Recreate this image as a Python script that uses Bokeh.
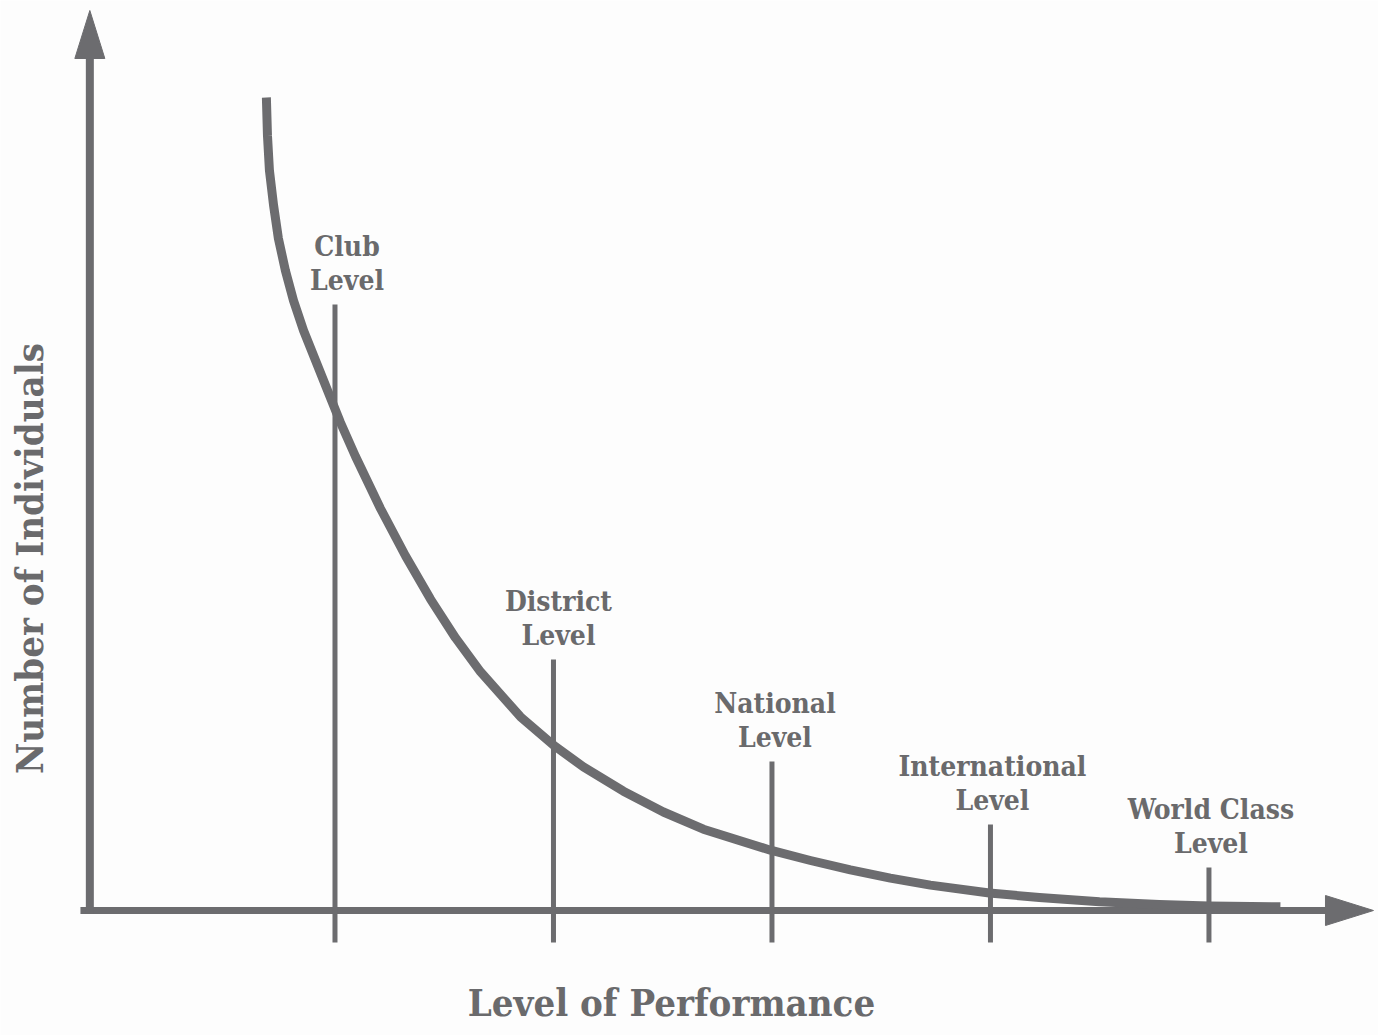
from bokeh.plotting import figure
from bokeh.models import Range1d, ColumnDataSource
from bokeh.core.properties import value
from bokeh.embed import file_html
from bokeh.resources import INLINE

# ---- data ----
level_labels = ["Club\nLevel", "District\nLevel", "National\nLevel",
                "International\nLevel", "World Class\nLevel"]
level_pos = [1, 2, 3, 4, 5]
level_top = [6.06, 2.51, 1.49, 0.86, 0.43]

curve_x = [0.686, 0.691, 0.700, 0.719, 0.741, 0.773, 0.810, 0.856, 0.911, 0.966,
           1.025, 1.094, 1.208, 1.323, 1.437, 1.551, 1.666, 1.849, 2.0,
           2.137, 2.320, 2.503, 2.686, 2.993, 3.176, 3.359, 3.542, 3.725,
           3.995, 4.224, 4.499, 4.773, 5.0, 5.327]
curve_y = [8.13, 7.75, 7.40, 7.05, 6.72, 6.40, 6.10, 5.80, 5.50, 5.20,
           4.88, 4.54, 4.02, 3.545, 3.114, 2.728, 2.387, 1.937, 1.653,
           1.436, 1.193, 0.985, 0.813, 0.603, 0.50, 0.406, 0.324, 0.254,
           0.175, 0.13, 0.088, 0.06, 0.045, 0.037]

x_title = "Level of Performance"
y_title = "Number of Individuals"

# ---- style / layout ----
INK = "#6c6c6f"
TXT = "#6a6a6c"
FONT = "DejaVu Serif Condensed"
W, H = 1378, 1035
X_MIN, X_MAX = -0.5309, 5.776
Y_MIN, Y_MAX = -1.25, 9.10
PX_PER_X = W / (X_MAX - X_MIN)
PX_PER_Y = H / (Y_MAX - Y_MIN)

label_dx = [12, 5, 3, 2, 2]          # screen-pixel nudges of the level labels
tick_depth = -0.32
y_axis_x = -0.122
x_axis_start = -0.165
y_arrow_tip = 9.0
x_arrow_tip = 5.753
head_len_px, head_half_px = 48, 15

p = figure(width=W, height=H,
           x_range=Range1d(X_MIN, X_MAX), y_range=Range1d(Y_MIN, Y_MAX),
           output_backend="svg", toolbar_location=None, min_border=0)
p.axis.visible = False
p.grid.visible = False
p.outline_line_color = None
p.background_fill_color = "#fdfdfd"
p.border_fill_color = "#fdfdfd"

# axes
p.line([x_axis_start, x_arrow_tip - head_len_px / PX_PER_X * 0.8], [0, 0],
       line_width=7, color=INK)
p.line([y_axis_x, y_axis_x], [-0.03, y_arrow_tip - head_len_px / PX_PER_Y * 0.8],
       line_width=8, color=INK)
hx = head_len_px / PX_PER_X
hy = head_half_px / PX_PER_Y
vx = head_half_px / PX_PER_X
vy = head_len_px / PX_PER_Y
p.patches(xs=[[x_arrow_tip, x_arrow_tip - hx, x_arrow_tip - hx],
              [y_axis_x, y_axis_x - vx, y_axis_x + vx]],
          ys=[[0, hy, -hy],
              [y_arrow_tip, y_arrow_tip - vy, y_arrow_tip - vy]],
          fill_color=INK, line_color=INK, line_width=1)

# level markers
p.segment(x0=level_pos, y0=[tick_depth] * len(level_pos), x1=level_pos, y1=level_top,
          line_width=5, color=INK)

# curve
p.line(curve_x, curve_y, line_width=9, color=INK, line_join="round")

# level labels
src = ColumnDataSource(dict(x=level_pos, y=level_top, t=level_labels, dx=label_dx))
p.text(x="x", y="y", text="t", source=src, text_align="center",
       text_baseline="bottom", x_offset="dx", y_offset=-7, text_font=value(FONT),
       text_font_style="bold", text_font_size="28px", text_color=TXT,
       text_line_height=1.06)

# axis titles
p.text(x=[2.54], y=[-1.14], text=[x_title],
       text_align="center", text_baseline="bottom", text_font=value(FONT),
       text_font_style="bold", text_font_size="38px", text_color=TXT)
p.text(x=[-0.297], y=[3.52], text=[y_title], angle=1.5708,
       text_align="center", text_baseline="bottom", text_font=value(FONT),
       text_font_style="bold", text_font_size="38px", text_color=TXT)

open("out.html", "w").write(file_html(p, INLINE))
